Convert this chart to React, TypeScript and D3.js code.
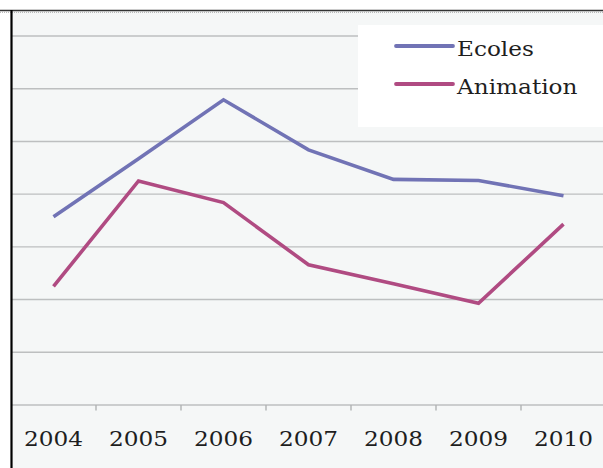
import React from "react";
import * as d3 from "d3";

const years = ["2004", "2005", "2006", "2007", "2008", "2009", "2010"];
const ecoles = [35.7, 46.7, 57.9, 48.4, 42.8, 42.6, 39.7];
const animation = [22.5, 42.5, 38.4, 26.6, 23.0, 19.3, 34.3];
const gridValues = [0, 10, 20, 30, 40, 50, 60, 70];
const seriesNames = ["Ecoles", "Animation"];
const seriesColors = ["#7173b5", "#b04b82"];

const W = 603;
const H = 468;
const SX = 1.16;

export default function App() {
  const x = d3.scaleBand<string>().domain(years).range([11, 606]).paddingInner(0).paddingOuter(0);
  const y = d3.scaleLinear().domain([0, 70]).range([405, 36]);
  const line = d3
    .line<number>()
    .x((_, i) => (x(years[i]) as number) + x.bandwidth() / 2)
    .y((d) => y(d));
  const series = [ecoles, animation];
  const font = "'DejaVu Serif', serif";

  return (
    <svg width={W} height={H} style={{ position: "absolute", left: 0, top: 0, display: "block" }}>
      <rect x={0} y={0} width={W} height={H} fill="#ffffff" />
      <rect x={12} y={11} width={W - 12} height={H - 11} fill="#f5f7f7" />
      {gridValues.slice(1).map((g) => (
        <line key={g} x1={12} x2={W} y1={y(g)} y2={y(g)} stroke="#bdbfc0" strokeWidth={1.4} />
      ))}
      <line x1={12} x2={W} y1={y(0)} y2={y(0)} stroke="#bdbfc0" strokeWidth={1.4} />
      {years.slice(1).map((yr) => (
        <line key={yr} x1={x(yr) as number} x2={x(yr) as number} y1={y(0)} y2={y(0) + 5.5} stroke="#b0b2b3" strokeWidth={1.4} />
      ))}
      {years.map((yr) => (
        <text
          key={yr}
          transform={`translate(${(x(yr) as number) + x.bandwidth() / 2},446) scale(${SX},1)`}
          textAnchor="middle"
          fontFamily={font}
          fontSize={20}
          fill="#1e1e1e"
        >
          {yr}
        </text>
      ))}
      {series.map((s, i) => (
        <path key={i} d={line(s) || ""} fill="none" stroke={seriesColors[i]} strokeWidth={3.6} strokeLinejoin="miter" />
      ))}
      <rect x={358} y={25} width={W - 358} height={102} fill="#ffffff" />
      {seriesNames.map((n, i) => (
        <g key={n}>
          <line x1={396} x2={453} y1={46 + i * 38} y2={46 + i * 38} stroke={seriesColors[i]} strokeWidth={3.8} strokeLinecap="round" />
          <text transform={`translate(457,${56 + i * 38}) scale(${SX},1)`} fontFamily={font} fontSize={20} fill="#1e1e1e">
            {n}
          </text>
        </g>
      ))}
      <line x1={0} x2={W} y1={10.5} y2={10.5} stroke="#333" strokeWidth={1.5} />
      <line x1={0} x2={W} y1={12.3} y2={12.3} stroke="#aaa" strokeWidth={1} strokeDasharray="1 1" />
      <line x1={11.5} x2={11.5} y1={10} y2={H} stroke="#000" strokeWidth={2.2} />
    </svg>
  );
}
